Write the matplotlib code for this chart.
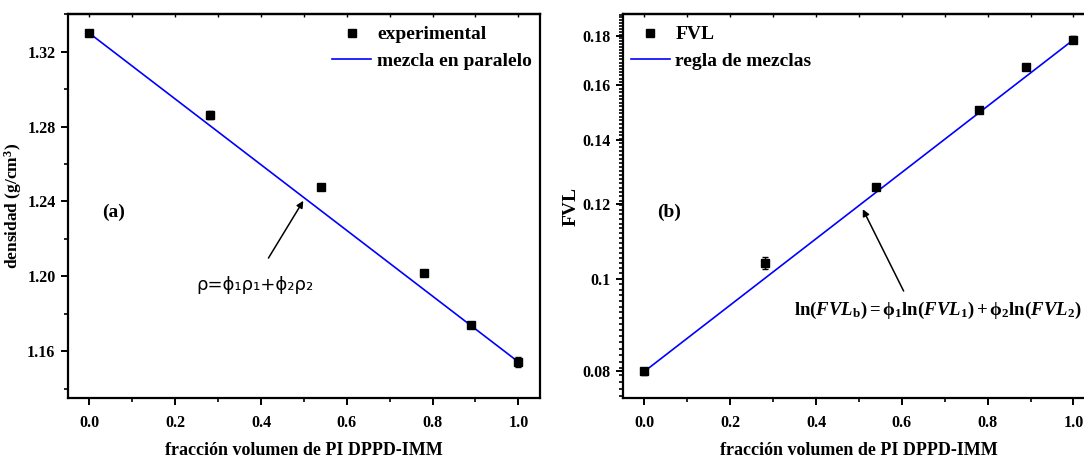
import matplotlib
matplotlib.use('Agg')
import matplotlib.pyplot as plt
from matplotlib.lines import Line2D
from matplotlib.ticker import FixedLocator, FixedFormatter, MultipleLocator, NullFormatter

plt.rcParams['font.family'] = 'Liberation Serif'
plt.rcParams['font.weight'] = 'bold'
plt.rcParams['mathtext.fontset'] = 'custom'
plt.rcParams['mathtext.rm'] = 'Liberation Serif:bold'
plt.rcParams['mathtext.bf'] = 'Liberation Serif:bold'
plt.rcParams['mathtext.it'] = 'Liberation Serif:italic:bold'

# densidad vs fraccion
phi = [0.0, 0.28, 0.54, 0.78, 0.89, 1.0]
rho = [1.3298, 1.2862, 1.2475, 1.2016, 1.174, 1.1543]
rho_err = [0.001, 0.002, 0.001, 0.001, 0.0015, 0.0025]
rho_line_x = [0.0, 1.0]
rho_line_y = [1.3298, 1.1543]

# FVL vs fraccion
fvl = [0.0800, 0.1040, 0.1251, 0.1508, 0.1673, 0.1786]
fvl_err = [0.0007, 0.0016, 0.0008, 0.0008, 0.0008, 0.0016]
fvl_line_x = [0.0, 1.0]
fvl_line_y = [0.0800, 0.1786]

rho_ticks = [1.16, 1.20, 1.24, 1.28, 1.32]
fvl_ticks = [0.08, 0.1, 0.12, 0.14, 0.16, 0.18]
fvl_labels = ['0.08', '0.1', '0.12', '0.14', '0.16', '0.18']
x_ticks = [0.0, 0.2, 0.4, 0.6, 0.8, 1.0]

fig = plt.figure(figsize=(10.84, 4.57), dpi=100)
ax1 = fig.add_axes([0.0627, 0.129, 0.4353, 0.84])
ax2 = fig.add_axes([0.5747, 0.129, 0.4354, 0.84])


def style(ax):
    for s in ax.spines.values():
        s.set_linewidth(1.6)
    ax.set_xlim(-0.05, 1.05)
    ax.set_xticks(x_ticks)
    ax.set_xticklabels(['%.1f' % v for v in x_ticks])
    ax.xaxis.set_minor_locator(MultipleLocator(0.1))
    ax.tick_params(which='major', direction='out', length=5, width=1.4, labelsize=11.5, pad=4)
    ax.tick_params(axis='x', which='major', pad=7)
    ax.tick_params(which='minor', direction='out', length=3, width=1.2)
    # ticks cortos hacia adentro arriba
    top = ax.secondary_xaxis('top')
    top.set_xticks(x_ticks)
    top.xaxis.set_minor_locator(MultipleLocator(0.1))
    top.tick_params(which='both', direction='in', length=2.5, width=1, labeltop=False)
    top.spines['top'].set_linewidth(1.6)
    ax.set_xlabel('fracción volumen de PI DPPD-IMM', fontsize=13, fontweight='bold', labelpad=8)


def legend_handles(label_pts, label_line):
    return [Line2D([], [], ls='none', marker='s', color='black', ms=6, label=label_pts),
            Line2D([], [], color='#0000ff', lw=1.2, label=label_line)]


# (a) densidad
ax1.errorbar(phi, rho, yerr=rho_err, fmt='s', color='black', ms=6, capsize=2, elinewidth=1, zorder=3)
ax1.plot(rho_line_x, rho_line_y, color='#0000ff', lw=1.2)
style(ax1)
ax1.set_ylim(1.135, 1.34)
ax1.set_yticks(rho_ticks)
ax1.set_yticklabels(['%.2f' % v for v in rho_ticks])
ax1.yaxis.set_minor_locator(MultipleLocator(0.02))
ax1.set_ylabel('densidad (g/cm$^3$)', fontsize=12.5, fontweight='bold', labelpad=2)
ax1.text(0.03, 1.2341, '(a)', fontsize=14, fontweight='bold', va='center')
ax1.annotate('', xy=(0.502, 1.2416), xytext=(0.414, 1.2085),
             arrowprops=dict(arrowstyle='-|>', color='black', lw=1.1, mutation_scale=10))
ax1.text(0.385, 1.1952, 'ρ=ϕ₁ρ₁+ϕ₂ρ₂', fontsize=13, fontweight='normal',
         family=['DejaVu Sans'], ha='center', va='center')
ax1.legend(handles=legend_handles('experimental', 'mezcla en paralelo'), loc='upper right',
           bbox_to_anchor=(1.0, 0.99), frameon=False, fontsize=14, handlelength=2.0,
           handletextpad=0.3, borderaxespad=0.0, labelspacing=0.45)

# (b) FVL, escala log
ax2.errorbar(phi, fvl, yerr=fvl_err, fmt='s', color='black', ms=6, capsize=2, elinewidth=1, zorder=3)
ax2.plot(fvl_line_x, fvl_line_y, color='#0000ff', lw=1.2)
style(ax2)
ax2.set_yscale('log')
ax2.set_ylim(0.075, 0.19)
ax2.yaxis.set_major_locator(FixedLocator(fvl_ticks))
ax2.yaxis.set_major_formatter(FixedFormatter(fvl_labels))
ax2.yaxis.set_minor_locator(MultipleLocator(0.0013))
ax2.yaxis.set_minor_formatter(NullFormatter())
ax2.set_ylabel('FVL', fontsize=14, fontweight='bold', labelpad=2)
ax2.text(0.03, 0.1177, '(b)', fontsize=14, fontweight='bold', va='center')
ax2.annotate('', xy=(0.506, 0.1192), xytext=(0.607, 0.0966),
             arrowprops=dict(arrowstyle='-|>', color='black', lw=1.1, mutation_scale=10))
ax2.text(0.684, 0.0927,
         r'$\mathrm{ln}(\mathit{FVL}_{\mathrm{b}}) = \mathrm{\phi}_1\mathrm{ln}(\mathit{FVL}_1) + \mathrm{\phi}_2\mathrm{ln}(\mathit{FVL}_2)$',
         fontsize=13.5, ha='center', va='center')
ax2.legend(handles=legend_handles('FVL', 'regla de mezclas'), loc='upper left',
           bbox_to_anchor=(0.0, 0.99), frameon=False, fontsize=14, handlelength=2.0,
           handletextpad=0.3, borderaxespad=0.0, labelspacing=0.45)

fig.savefig('out.png', dpi=100)
